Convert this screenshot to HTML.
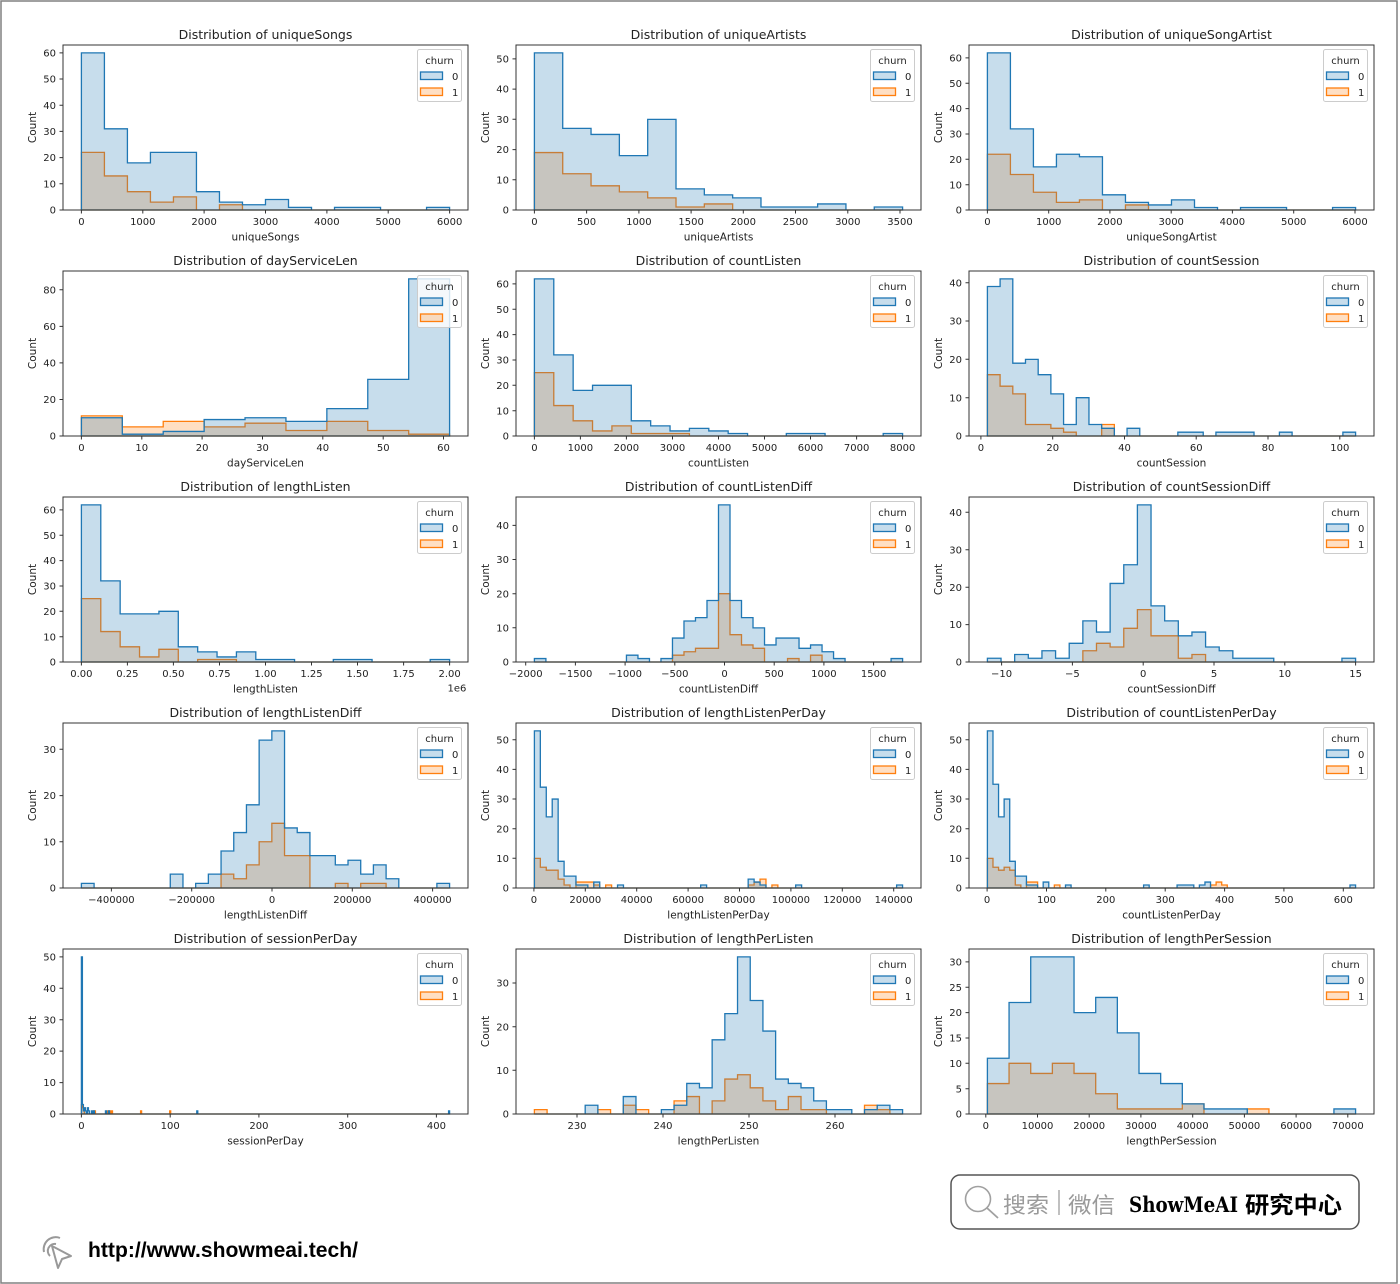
<!DOCTYPE html>
<html>
<head>
<meta charset="utf-8">
<style>
html,body{margin:0;padding:0;background:#fff;}
svg{display:block;}
text{font-family:"DejaVu Sans","Liberation Sans",sans-serif;fill:#222;}
.t{font-size:12.5px;text-anchor:middle;}
.xl{font-size:10.5px;text-anchor:middle;}
.xt{font-size:10px;text-anchor:middle;}
.yt{font-size:10px;text-anchor:end;}
.lg{font-size:10px;}
.b{fill:#1f77b4;fill-opacity:.25;stroke:#1f77b4;stroke-width:1.3;vector-effect:non-scaling-stroke;}
.o{fill:#ff7f0e;fill-opacity:.25;stroke:#ff7f0e;stroke-width:1.3;vector-effect:non-scaling-stroke;}
.sp{fill:none;stroke:#333;stroke-width:1;}
.tk{stroke:#333;stroke-width:1;fill:none;}
.lb{fill:#fff;fill-opacity:.8;stroke:#ccc;stroke-width:1;}
.pb{fill:#1f77b4;fill-opacity:.25;stroke:#1f77b4;stroke-width:1.3;}
.po{fill:#ff7f0e;fill-opacity:.25;stroke:#ff7f0e;stroke-width:1.3;}
</style>
</head>
<body>
<svg width="1400" height="1284" viewBox="0 0 1400 1284" xmlns="http://www.w3.org/2000/svg">
<rect x="0" y="0" width="1400" height="1284" fill="#fff"/>
<rect x="1" y="1" width="1396" height="1282" fill="none" stroke="#808080" stroke-width="1.5"/>

<!-- Chart 1 uniqueSongs -->
<g transform="translate(63,45)">
<g transform="translate(18.4,165) scale(23.011,-2.619)">
<path class="o" d="M0,0V22H1V13H2V7H3V3H4V5H5V0H6V2H7V0H16Z"/>
<path class="b" d="M0,0V60H1V31H2V18H3V22H5V7H6V3H7V2H8V4H9V1H10V0H11V1H13V0H15V1H16V0Z"/>
</g>
<rect class="sp" x="0" y="0" width="405" height="165"/>
<path class="tk" d="M18.4,165v3.5M79.8,165v3.5M141.1,165v3.5M202.5,165v3.5M263.9,165v3.5M325.2,165v3.5M386.6,165v3.5M0,165h-3.5M0,138.8h-3.5M0,112.6h-3.5M0,86.4h-3.5M0,60.2h-3.5M0,34h-3.5M0,7.9h-3.5"/>
<text class="xt" y="180"><tspan x="18.4">0</tspan><tspan x="79.8">1000</tspan><tspan x="141.1">2000</tspan><tspan x="202.5">3000</tspan><tspan x="263.9">4000</tspan><tspan x="325.2">5000</tspan><tspan x="386.6">6000</tspan></text>
<text class="yt"><tspan x="-7" y="168.6">0</tspan><tspan x="-7" y="142.4">10</tspan><tspan x="-7" y="116.2">20</tspan><tspan x="-7" y="90">30</tspan><tspan x="-7" y="63.8">40</tspan><tspan x="-7" y="37.6">50</tspan><tspan x="-7" y="11.5">60</tspan></text>
<text class="t" x="202.5" y="-6">Distribution of uniqueSongs</text>
<text class="xl" x="202.5" y="195.5">uniqueSongs</text>
<text class="xl" transform="translate(-27,82.5) rotate(-90)">Count</text>
<rect class="lb" x="354.5" y="4.5" width="44" height="52" rx="2"/>
<text class="lg" x="376.5" y="19" text-anchor="middle">churn</text>
<rect class="pb" x="357.5" y="27" width="22" height="7.5"/><text class="lg" x="389" y="35">0</text>
<rect class="po" x="357.5" y="43" width="22" height="7.5"/><text class="lg" x="389" y="51">1</text>
</g>

<!-- Chart 2 uniqueArtists -->
<g transform="translate(516,45)">
<g transform="translate(18.4,165) scale(28.322,-3.022)">
<path class="o" d="M0,0V19H1V12H2V8H3V6H4V4H5V1H6V2H7V0H13Z"/>
<path class="b" d="M0,0V52H1V27H2V25H3V18H4V30H5V7H6V5H7V4H8V1H10V2H11V0H12V1H13V0Z"/>
</g>
<rect class="sp" x="0" y="0" width="405" height="165"/>
<path class="tk" d="M18.4,165v3.5M70.6,165v3.5M122.9,165v3.5M175.1,165v3.5M227.3,165v3.5M279.5,165v3.5M331.8,165v3.5M384,165v3.5M0,165h-3.5M0,134.8h-3.5M0,104.6h-3.5M0,74.3h-3.5M0,44.1h-3.5M0,13.9h-3.5"/>
<text class="xt" y="180"><tspan x="18.4">0</tspan><tspan x="70.6">500</tspan><tspan x="122.9">1000</tspan><tspan x="175.1">1500</tspan><tspan x="227.3">2000</tspan><tspan x="279.5">2500</tspan><tspan x="331.8">3000</tspan><tspan x="384">3500</tspan></text>
<text class="yt"><tspan x="-7" y="168.6">0</tspan><tspan x="-7" y="138.4">10</tspan><tspan x="-7" y="108.2">20</tspan><tspan x="-7" y="77.9">30</tspan><tspan x="-7" y="47.7">40</tspan><tspan x="-7" y="17.5">50</tspan></text>
<text class="t" x="202.5" y="-6">Distribution of uniqueArtists</text>
<text class="xl" x="202.5" y="195.5">uniqueArtists</text>
<text class="xl" transform="translate(-27,82.5) rotate(-90)">Count</text>
<rect class="lb" x="354.5" y="4.5" width="44" height="52" rx="2"/>
<text class="lg" x="376.5" y="19" text-anchor="middle">churn</text>
<rect class="pb" x="357.5" y="27" width="22" height="7.5"/><text class="lg" x="389" y="35">0</text>
<rect class="po" x="357.5" y="43" width="22" height="7.5"/><text class="lg" x="389" y="51">1</text>
</g>

<!-- Chart 3 uniqueSongArtist -->
<g transform="translate(969,45)">
<g transform="translate(18.4,165) scale(23.011,-2.5346)">
<path class="o" d="M0,0V22H1V14H2V7H3V3H4V4H5V0H6V2H7V0H16Z"/>
<path class="b" d="M0,0V62H1V32H2V17H3V22H4V21H5V6H6V3H7V2H8V4H9V1H10V0H11V1H13V0H15V1H16V0Z"/>
</g>
<rect class="sp" x="0" y="0" width="405" height="165"/>
<path class="tk" d="M18.4,165v3.5M79.7,165v3.5M140.9,165v3.5M202.2,165v3.5M263.4,165v3.5M324.7,165v3.5M386,165v3.5M0,165h-3.5M0,139.7h-3.5M0,114.3h-3.5M0,89h-3.5M0,63.6h-3.5M0,38.3h-3.5M0,12.9h-3.5"/>
<text class="xt" y="180"><tspan x="18.4">0</tspan><tspan x="79.7">1000</tspan><tspan x="140.9">2000</tspan><tspan x="202.2">3000</tspan><tspan x="263.4">4000</tspan><tspan x="324.7">5000</tspan><tspan x="386">6000</tspan></text>
<text class="yt"><tspan x="-7" y="168.6">0</tspan><tspan x="-7" y="143.3">10</tspan><tspan x="-7" y="117.9">20</tspan><tspan x="-7" y="92.6">30</tspan><tspan x="-7" y="67.2">40</tspan><tspan x="-7" y="41.9">50</tspan><tspan x="-7" y="16.5">60</tspan></text>
<text class="t" x="202.5" y="-6">Distribution of uniqueSongArtist</text>
<text class="xl" x="202.5" y="195.5">uniqueSongArtist</text>
<text class="xl" transform="translate(-27,82.5) rotate(-90)">Count</text>
<rect class="lb" x="354.5" y="4.5" width="44" height="52" rx="2"/>
<text class="lg" x="376.5" y="19" text-anchor="middle">churn</text>
<rect class="pb" x="357.5" y="27" width="22" height="7.5"/><text class="lg" x="389" y="35">0</text>
<rect class="po" x="357.5" y="43" width="22" height="7.5"/><text class="lg" x="389" y="51">1</text>
</g>

<!-- Chart 4 dayServiceLen -->
<g transform="translate(63,271)">
<g transform="translate(18.4,165) scale(40.909,-1.8272)">
<path class="o" d="M0,0V11H1V5H2V8H3V5H4V7H5V3H6V8H7V3H8V1H9V0Z"/>
<path class="b" d="M0,0V10H1V1H2V2.5H3V9H4V10H5V8H6V15H7V31H8V86H9V0Z"/>
</g>
<rect class="sp" x="0" y="0" width="405" height="165"/>
<path class="tk" d="M18.4,165v3.5M78.8,165v3.5M139.1,165v3.5M199.5,165v3.5M259.8,165v3.5M320.2,165v3.5M380.5,165v3.5M0,165h-3.5M0,128.5h-3.5M0,91.9h-3.5M0,55.4h-3.5M0,18.8h-3.5"/>
<text class="xt" y="180"><tspan x="18.4">0</tspan><tspan x="78.8">10</tspan><tspan x="139.1">20</tspan><tspan x="199.5">30</tspan><tspan x="259.8">40</tspan><tspan x="320.2">50</tspan><tspan x="380.5">60</tspan></text>
<text class="yt"><tspan x="-7" y="168.6">0</tspan><tspan x="-7" y="132.1">20</tspan><tspan x="-7" y="95.5">40</tspan><tspan x="-7" y="59">60</tspan><tspan x="-7" y="22.4">80</tspan></text>
<text class="t" x="202.5" y="-6">Distribution of dayServiceLen</text>
<text class="xl" x="202.5" y="195.5">dayServiceLen</text>
<text class="xl" transform="translate(-27,82.5) rotate(-90)">Count</text>
<rect class="lb" x="354.5" y="4.5" width="44" height="52" rx="2"/>
<text class="lg" x="376.5" y="19" text-anchor="middle">churn</text>
<rect class="pb" x="357.5" y="27" width="22" height="7.5"/><text class="lg" x="389" y="35">0</text>
<rect class="po" x="357.5" y="43" width="22" height="7.5"/><text class="lg" x="389" y="51">1</text>
</g>

<!-- Chart 5 countListen -->
<g transform="translate(516,271)">
<g transform="translate(18.4,165) scale(19.378,-2.5346)">
<path class="o" d="M0,0V25H1V12H2V6H3V2H4V4H5V1H8V0H19Z"/>
<path class="b" d="M0,0V62H1V32H2V18H3V20H5V6H6V4H7V2H8V3H9V2H10V1H11V0H13V1H15V0H18V1H19V0Z"/>
</g>
<rect class="sp" x="0" y="0" width="405" height="165"/>
<path class="tk" d="M18.4,165v3.5M64.4,165v3.5M110.4,165v3.5M156.5,165v3.5M202.5,165v3.5M248.5,165v3.5M294.5,165v3.5M340.6,165v3.5M386.6,165v3.5M0,165h-3.5M0,139.7h-3.5M0,114.3h-3.5M0,89h-3.5M0,63.6h-3.5M0,38.3h-3.5M0,12.9h-3.5"/>
<text class="xt" y="180"><tspan x="18.4">0</tspan><tspan x="64.4">1000</tspan><tspan x="110.4">2000</tspan><tspan x="156.5">3000</tspan><tspan x="202.5">4000</tspan><tspan x="248.5">5000</tspan><tspan x="294.5">6000</tspan><tspan x="340.6">7000</tspan><tspan x="386.6">8000</tspan></text>
<text class="yt"><tspan x="-7" y="168.6">0</tspan><tspan x="-7" y="143.3">10</tspan><tspan x="-7" y="117.9">20</tspan><tspan x="-7" y="92.6">30</tspan><tspan x="-7" y="67.2">40</tspan><tspan x="-7" y="41.9">50</tspan><tspan x="-7" y="16.5">60</tspan></text>
<text class="t" x="202.5" y="-6">Distribution of countListen</text>
<text class="xl" x="202.5" y="195.5">countListen</text>
<text class="xl" transform="translate(-27,82.5) rotate(-90)">Count</text>
<rect class="lb" x="354.5" y="4.5" width="44" height="52" rx="2"/>
<text class="lg" x="376.5" y="19" text-anchor="middle">churn</text>
<rect class="pb" x="357.5" y="27" width="22" height="7.5"/><text class="lg" x="389" y="35">0</text>
<rect class="po" x="357.5" y="43" width="22" height="7.5"/><text class="lg" x="389" y="51">1</text>
</g>

<!-- Chart 6 countSession -->
<g transform="translate(969,271)">
<g transform="translate(18.4,165) scale(12.696,-3.8328)">
<path class="o" d="M0,0V16H1V13H2V11H3V3H5V2H6V1H7V0H9V3H10V0H29Z"/>
<path class="b" d="M0,0V39H1V41H2V19H3V20H4V16H5V11H6V3H7V10H8V3H9V2H10V0H11V2H12V0H15V1H17V0H18V1H21V0H23V1H24V0H28V1H29V0Z"/>
</g>
<rect class="sp" x="0" y="0" width="405" height="165"/>
<path class="tk" d="M11.9,165v3.5M83.7,165v3.5M155.5,165v3.5M227.2,165v3.5M299,165v3.5M370.8,165v3.5M0,165h-3.5M0,126.7h-3.5M0,88.3h-3.5M0,50h-3.5M0,11.7h-3.5"/>
<text class="xt" y="180"><tspan x="11.9">0</tspan><tspan x="83.7">20</tspan><tspan x="155.5">40</tspan><tspan x="227.2">60</tspan><tspan x="299">80</tspan><tspan x="370.8">100</tspan></text>
<text class="yt"><tspan x="-7" y="168.6">0</tspan><tspan x="-7" y="130.3">10</tspan><tspan x="-7" y="91.9">20</tspan><tspan x="-7" y="53.6">30</tspan><tspan x="-7" y="15.3">40</tspan></text>
<text class="t" x="202.5" y="-6">Distribution of countSession</text>
<text class="xl" x="202.5" y="195.5">countSession</text>
<text class="xl" transform="translate(-27,82.5) rotate(-90)">Count</text>
<rect class="lb" x="354.5" y="4.5" width="44" height="52" rx="2"/>
<text class="lg" x="376.5" y="19" text-anchor="middle">churn</text>
<rect class="pb" x="357.5" y="27" width="22" height="7.5"/><text class="lg" x="389" y="35">0</text>
<rect class="po" x="357.5" y="43" width="22" height="7.5"/><text class="lg" x="389" y="51">1</text>
</g>

<!-- Chart 7 lengthListen -->
<g transform="translate(63,497)">
<g transform="translate(18.4,165) scale(19.378,-2.5346)">
<path class="o" d="M0,0V25H1V12H2V6H3V2H4V5H5V0H6V1H8V0H19Z"/>
<path class="b" d="M0,0V62H1V32H2V19H4V20H5V6H6V4H7V2H8V4H9V1H11V0H13V1H15V0H18V1H19V0Z"/>
</g>
<rect class="sp" x="0" y="0" width="405" height="165"/>
<path class="tk" d="M18.4,165v3.5M64.4,165v3.5M110.4,165v3.5M156.5,165v3.5M202.5,165v3.5M248.5,165v3.5M294.5,165v3.5M340.6,165v3.5M386.6,165v3.5M0,165h-3.5M0,139.7h-3.5M0,114.3h-3.5M0,89h-3.5M0,63.6h-3.5M0,38.3h-3.5M0,12.9h-3.5"/>
<text class="xt" y="180"><tspan x="18.4">0.00</tspan><tspan x="64.4">0.25</tspan><tspan x="110.4">0.50</tspan><tspan x="156.5">0.75</tspan><tspan x="202.5">1.00</tspan><tspan x="248.5">1.25</tspan><tspan x="294.5">1.50</tspan><tspan x="340.6">1.75</tspan><tspan x="386.6">2.00</tspan></text>
<text class="xt" x="394" y="194.5">1e6</text>
<text class="yt"><tspan x="-7" y="168.6">0</tspan><tspan x="-7" y="143.3">10</tspan><tspan x="-7" y="117.9">20</tspan><tspan x="-7" y="92.6">30</tspan><tspan x="-7" y="67.2">40</tspan><tspan x="-7" y="41.9">50</tspan><tspan x="-7" y="16.5">60</tspan></text>
<text class="t" x="202.5" y="-6">Distribution of lengthListen</text>
<text class="xl" x="202.5" y="195.5">lengthListen</text>
<text class="xl" transform="translate(-27,82.5) rotate(-90)">Count</text>
<rect class="lb" x="354.5" y="4.5" width="44" height="52" rx="2"/>
<text class="lg" x="376.5" y="19" text-anchor="middle">churn</text>
<rect class="pb" x="357.5" y="27" width="22" height="7.5"/><text class="lg" x="389" y="35">0</text>
<rect class="po" x="357.5" y="43" width="22" height="7.5"/><text class="lg" x="389" y="51">1</text>
</g>

<!-- Chart 8 countListenDiff -->
<g transform="translate(516,497)">
<g transform="translate(18.4,165) scale(11.506,-3.4161)">
<path class="o" d="M0,0H12V2H13V3H14V4H16V20H17V8H18V5H19V4H20V0H22V1H23V0H24V2H25V0H32Z"/>
<path class="b" d="M0,0V1H1V0H8V2H9V1H10V0H11V1H12V7H13V12H14V13H15V18H16V46H17V18H18V13H19V10H20V5H21V7H23V4H24V5H25V3H26V1H27V0H31V1H32V0Z"/>
</g>
<rect class="sp" x="0" y="0" width="405" height="165"/>
<path class="tk" d="M9.7,165v3.5M59.4,165v3.5M109.1,165v3.5M158.8,165v3.5M208.5,165v3.5M258.2,165v3.5M307.9,165v3.5M357.6,165v3.5M0,165h-3.5M0,130.8h-3.5M0,96.7h-3.5M0,62.5h-3.5M0,28.4h-3.5"/>
<text class="xt" y="180"><tspan x="9.7">−2000</tspan><tspan x="59.4">−1500</tspan><tspan x="109.1">−1000</tspan><tspan x="158.8">−500</tspan><tspan x="208.5">0</tspan><tspan x="258.2">500</tspan><tspan x="307.9">1000</tspan><tspan x="357.6">1500</tspan></text>
<text class="yt"><tspan x="-7" y="168.6">0</tspan><tspan x="-7" y="134.4">10</tspan><tspan x="-7" y="100.3">20</tspan><tspan x="-7" y="66.1">30</tspan><tspan x="-7" y="32">40</tspan></text>
<text class="t" x="202.5" y="-6">Distribution of countListenDiff</text>
<text class="xl" x="202.5" y="195.5">countListenDiff</text>
<text class="xl" transform="translate(-27,82.5) rotate(-90)">Count</text>
<rect class="lb" x="354.5" y="4.5" width="44" height="52" rx="2"/>
<text class="lg" x="376.5" y="19" text-anchor="middle">churn</text>
<rect class="pb" x="357.5" y="27" width="22" height="7.5"/><text class="lg" x="389" y="35">0</text>
<rect class="po" x="357.5" y="43" width="22" height="7.5"/><text class="lg" x="389" y="51">1</text>
</g>

<!-- Chart 9 countSessionDiff -->
<g transform="translate(969,497)">
<g transform="translate(18.4,165) scale(13.636,-3.7415)">
<path class="o" d="M0,0H7V3H8V5H9V4H10V9H11V14H12V7H14V1H15V2H16V0H27Z"/>
<path class="b" d="M0,0V1H1V0H2V2H3V1H4V3H5V1H6V5H7V11H8V8H9V21H10V26H11V42H12V15H13V11H14V7H15V8H16V4H17V3H18V1H21V0H26V1H27V0Z"/>
</g>
<rect class="sp" x="0" y="0" width="405" height="165"/>
<path class="tk" d="M32.6,165v3.5M103.4,165v3.5M174.2,165v3.5M245,165v3.5M315.8,165v3.5M386.6,165v3.5M0,165h-3.5M0,127.6h-3.5M0,90.2h-3.5M0,52.8h-3.5M0,15.3h-3.5"/>
<text class="xt" y="180"><tspan x="32.6">−10</tspan><tspan x="103.4">−5</tspan><tspan x="174.2">0</tspan><tspan x="245">5</tspan><tspan x="315.8">10</tspan><tspan x="386.6">15</tspan></text>
<text class="yt"><tspan x="-7" y="168.6">0</tspan><tspan x="-7" y="131.2">10</tspan><tspan x="-7" y="93.8">20</tspan><tspan x="-7" y="56.4">30</tspan><tspan x="-7" y="18.9">40</tspan></text>
<text class="t" x="202.5" y="-6">Distribution of countSessionDiff</text>
<text class="xl" x="202.5" y="195.5">countSessionDiff</text>
<text class="xl" transform="translate(-27,82.5) rotate(-90)">Count</text>
<rect class="lb" x="354.5" y="4.5" width="44" height="52" rx="2"/>
<text class="lg" x="376.5" y="19" text-anchor="middle">churn</text>
<rect class="pb" x="357.5" y="27" width="22" height="7.5"/><text class="lg" x="389" y="35">0</text>
<rect class="po" x="357.5" y="43" width="22" height="7.5"/><text class="lg" x="389" y="51">1</text>
</g>

<!-- Chart 10 lengthListenDiff -->
<g transform="translate(63,723)">
<g transform="translate(18.4,165) scale(12.696,-4.6218)">
<path class="o" d="M0,0H11V3H12V2H13V5H14V10H15V14H16V7H18V0H20V1H21V0H22V1H24V0H29Z"/>
<path class="b" d="M0,0V1H1V0H7V3H8V0H9V1H10V3H11V8H12V12H13V18H14V32H15V34H16V13H17V12H18V7H20V5H21V6H22V3H23V5H24V2H25V0H28V1H29V0Z"/>
</g>
<rect class="sp" x="0" y="0" width="405" height="165"/>
<path class="tk" d="M48.4,165v3.5M128.7,165v3.5M209,165v3.5M289.3,165v3.5M369.6,165v3.5M0,165h-3.5M0,118.8h-3.5M0,72.6h-3.5M0,26.3h-3.5"/>
<text class="xt" y="180"><tspan x="48.4">−400000</tspan><tspan x="128.7">−200000</tspan><tspan x="209">0</tspan><tspan x="289.3">200000</tspan><tspan x="369.6">400000</tspan></text>
<text class="yt"><tspan x="-7" y="168.6">0</tspan><tspan x="-7" y="122.4">10</tspan><tspan x="-7" y="76.2">20</tspan><tspan x="-7" y="29.9">30</tspan></text>
<text class="t" x="202.5" y="-6">Distribution of lengthListenDiff</text>
<text class="xl" x="202.5" y="195.5">lengthListenDiff</text>
<text class="xl" transform="translate(-27,82.5) rotate(-90)">Count</text>
<rect class="lb" x="354.5" y="4.5" width="44" height="52" rx="2"/>
<text class="lg" x="376.5" y="19" text-anchor="middle">churn</text>
<rect class="pb" x="357.5" y="27" width="22" height="7.5"/><text class="lg" x="389" y="35">0</text>
<rect class="po" x="357.5" y="43" width="22" height="7.5"/><text class="lg" x="389" y="51">1</text>
</g>

<!-- Chart 11 lengthListenPerDay -->
<g transform="translate(516,723)">
<g transform="translate(18.4,165) scale(5.938,-2.965)">
<path class="o" d="M0,0V10H1V7H2V6H4V3H5V1H6V0H7V2H10V1H11V0H12V1H13V0H36V1H37V2H38V3H39V0H40V1H41V0H62Z"/>
<path class="b" d="M0,0V53H1V34H2V24H3V30H4V9H5V4H7V1H9V0H10V2H11V0H14V1H15V0H28V1H29V0H36V3H37V2H38V1H39V0H44V1H45V0H61V1H62V0Z"/>
</g>
<rect class="sp" x="0" y="0" width="405" height="165"/>
<path class="tk" d="M17.9,165v3.5M69.3,165v3.5M120.7,165v3.5M172.1,165v3.5M223.5,165v3.5M274.9,165v3.5M326.3,165v3.5M377.7,165v3.5M0,165h-3.5M0,135.3h-3.5M0,105.7h-3.5M0,76h-3.5M0,46.4h-3.5M0,16.7h-3.5"/>
<text class="xt" y="180"><tspan x="17.9">0</tspan><tspan x="69.3">20000</tspan><tspan x="120.7">40000</tspan><tspan x="172.1">60000</tspan><tspan x="223.5">80000</tspan><tspan x="274.9">100000</tspan><tspan x="326.3">120000</tspan><tspan x="377.7">140000</tspan></text>
<text class="yt"><tspan x="-7" y="168.6">0</tspan><tspan x="-7" y="138.9">10</tspan><tspan x="-7" y="109.3">20</tspan><tspan x="-7" y="79.6">30</tspan><tspan x="-7" y="50">40</tspan><tspan x="-7" y="20.3">50</tspan></text>
<text class="t" x="202.5" y="-6">Distribution of lengthListenPerDay</text>
<text class="xl" x="202.5" y="195.5">lengthListenPerDay</text>
<text class="xl" transform="translate(-27,82.5) rotate(-90)">Count</text>
<rect class="lb" x="354.5" y="4.5" width="44" height="52" rx="2"/>
<text class="lg" x="376.5" y="19" text-anchor="middle">churn</text>
<rect class="pb" x="357.5" y="27" width="22" height="7.5"/><text class="lg" x="389" y="35">0</text>
<rect class="po" x="357.5" y="43" width="22" height="7.5"/><text class="lg" x="389" y="51">1</text>
</g>

<!-- Chart 12 countListenPerDay -->
<g transform="translate(969,723)">
<g transform="translate(18.4,165) scale(5.5785,-2.965)">
<path class="o" d="M0,0V10H1V7H2V6H3V7H4V6H5V1H6V0H7V2H9V0H12V1H13V0H40V1H41V2H42V1H43V0H66Z"/>
<path class="b" d="M0,0V53H1V35H2V24H3V30H4V9H5V4H7V1H9V0H10V2H11V0H14V1H15V0H28V1H29V0H34V1H37V0H38V1H39V2H40V0H65V1H66V0Z"/>
</g>
<rect class="sp" x="0" y="0" width="405" height="165"/>
<path class="tk" d="M18.1,165v3.5M77.5,165v3.5M136.8,165v3.5M196.2,165v3.5M255.6,165v3.5M314.9,165v3.5M374.3,165v3.5M0,165h-3.5M0,135.3h-3.5M0,105.7h-3.5M0,76h-3.5M0,46.4h-3.5M0,16.7h-3.5"/>
<text class="xt" y="180"><tspan x="18.1">0</tspan><tspan x="77.5">100</tspan><tspan x="136.8">200</tspan><tspan x="196.2">300</tspan><tspan x="255.6">400</tspan><tspan x="314.9">500</tspan><tspan x="374.3">600</tspan></text>
<text class="yt"><tspan x="-7" y="168.6">0</tspan><tspan x="-7" y="138.9">10</tspan><tspan x="-7" y="109.3">20</tspan><tspan x="-7" y="79.6">30</tspan><tspan x="-7" y="50">40</tspan><tspan x="-7" y="20.3">50</tspan></text>
<text class="t" x="202.5" y="-6">Distribution of countListenPerDay</text>
<text class="xl" x="202.5" y="195.5">countListenPerDay</text>
<text class="xl" transform="translate(-27,82.5) rotate(-90)">Count</text>
<rect class="lb" x="354.5" y="4.5" width="44" height="52" rx="2"/>
<text class="lg" x="376.5" y="19" text-anchor="middle">churn</text>
<rect class="pb" x="357.5" y="27" width="22" height="7.5"/><text class="lg" x="389" y="35">0</text>
<rect class="po" x="357.5" y="43" width="22" height="7.5"/><text class="lg" x="389" y="51">1</text>
</g>

<!-- Chart 13 sessionPerDay -->
<g transform="translate(63,949)">
<g transform="translate(18.4,165) scale(1.00322,-3.1429)">
<path class="o" d="M0,0V3H1V2H2V1H3V0H12V1H14V0H26V1H27V0H28V1H29V0H30V1H31V0H59V1H60V0H88V1H89V0H367Z"/>
<path class="b" d="M0,0V50H1V3H2V1H3V2H4V1H5V0H6V2H7V1H8V0H10V1H11V0H12V1H13V0H24V1H25V0H27V1H28V0H115V1H116V0H366V1H367V0Z"/>
</g>
<rect class="sp" x="0" y="0" width="405" height="165"/>
<path class="tk" d="M18.4,165v3.5M107.2,165v3.5M195.9,165v3.5M284.7,165v3.5M373.4,165v3.5M0,165h-3.5M0,133.6h-3.5M0,102.1h-3.5M0,70.7h-3.5M0,39.3h-3.5M0,7.9h-3.5"/>
<text class="xt" y="180"><tspan x="18.4">0</tspan><tspan x="107.2">100</tspan><tspan x="195.9">200</tspan><tspan x="284.7">300</tspan><tspan x="373.4">400</tspan></text>
<text class="yt"><tspan x="-7" y="168.6">0</tspan><tspan x="-7" y="137.2">10</tspan><tspan x="-7" y="105.7">20</tspan><tspan x="-7" y="74.3">30</tspan><tspan x="-7" y="42.9">40</tspan><tspan x="-7" y="11.5">50</tspan></text>
<text class="t" x="202.5" y="-6">Distribution of sessionPerDay</text>
<text class="xl" x="202.5" y="195.5">sessionPerDay</text>
<text class="xl" transform="translate(-27,82.5) rotate(-90)">Count</text>
<rect class="lb" x="354.5" y="4.5" width="44" height="52" rx="2"/>
<text class="lg" x="376.5" y="19" text-anchor="middle">churn</text>
<rect class="pb" x="357.5" y="27" width="22" height="7.5"/><text class="lg" x="389" y="35">0</text>
<rect class="po" x="357.5" y="43" width="22" height="7.5"/><text class="lg" x="389" y="51">1</text>
</g>

<!-- Chart 14 lengthPerListen -->
<g transform="translate(516,949)">
<g transform="translate(18.4,165) scale(12.696,-4.365)">
<path class="o" d="M0,0V1H1V0H5V1H6V0H7V2H8V1H9V0H11V3H12V4H13V0H14V3H15V8H16V9H17V6H18V3H19V1H20V4H21V1H23V0H26V2H27V1H28V0H29Z"/>
<path class="b" d="M0,0H4V2H5V0H7V4H8V0H10V1H11V2H12V7H13V6H14V17H15V23H16V36H17V26H18V19H19V8H20V7H21V6H22V3H23V1H25V0H26V1H27V2H28V1H29V0Z"/>
</g>
<rect class="sp" x="0" y="0" width="405" height="165"/>
<path class="tk" d="M61,165v3.5M147,165v3.5M233,165v3.5M319,165v3.5M0,165h-3.5M0,121.3h-3.5M0,77.7h-3.5M0,34h-3.5"/>
<text class="xt" y="180"><tspan x="61">230</tspan><tspan x="147">240</tspan><tspan x="233">250</tspan><tspan x="319">260</tspan></text>
<text class="yt"><tspan x="-7" y="168.6">0</tspan><tspan x="-7" y="124.9">10</tspan><tspan x="-7" y="81.3">20</tspan><tspan x="-7" y="37.6">30</tspan></text>
<text class="t" x="202.5" y="-6">Distribution of lengthPerListen</text>
<text class="xl" x="202.5" y="195.5">lengthPerListen</text>
<text class="xl" transform="translate(-27,82.5) rotate(-90)">Count</text>
<rect class="lb" x="354.5" y="4.5" width="44" height="52" rx="2"/>
<text class="lg" x="376.5" y="19" text-anchor="middle">churn</text>
<rect class="pb" x="357.5" y="27" width="22" height="7.5"/><text class="lg" x="389" y="35">0</text>
<rect class="po" x="357.5" y="43" width="22" height="7.5"/><text class="lg" x="389" y="51">1</text>
</g>

<!-- Chart 15 lengthPerSession -->
<g transform="translate(969,949)">
<g transform="translate(18.4,165) scale(21.658,-5.069)">
<path class="o" d="M0,0V6H1V10H2V8H3V10H4V8H5V4H6V1H9V2H10V0H12V1H13V0H17Z"/>
<path class="b" d="M0,0V11H1V22H2V31H4V20H5V23H6V16H7V8H8V6H9V2H10V1H12V0H16V1H17V0Z"/>
</g>
<rect class="sp" x="0" y="0" width="405" height="165"/>
<path class="tk" d="M16.8,165v3.5M68.5,165v3.5M120.2,165v3.5M171.9,165v3.5M223.7,165v3.5M275.4,165v3.5M327.1,165v3.5M378.8,165v3.5M0,165h-3.5M0,139.7h-3.5M0,114.3h-3.5M0,89h-3.5M0,63.6h-3.5M0,38.3h-3.5M0,12.9h-3.5"/>
<text class="xt" y="180"><tspan x="16.8">0</tspan><tspan x="68.5">10000</tspan><tspan x="120.2">20000</tspan><tspan x="171.9">30000</tspan><tspan x="223.7">40000</tspan><tspan x="275.4">50000</tspan><tspan x="327.1">60000</tspan><tspan x="378.8">70000</tspan></text>
<text class="yt"><tspan x="-7" y="168.6">0</tspan><tspan x="-7" y="143.3">5</tspan><tspan x="-7" y="117.9">10</tspan><tspan x="-7" y="92.6">15</tspan><tspan x="-7" y="67.2">20</tspan><tspan x="-7" y="41.9">25</tspan><tspan x="-7" y="16.5">30</tspan></text>
<text class="t" x="202.5" y="-6">Distribution of lengthPerSession</text>
<text class="xl" x="202.5" y="195.5">lengthPerSession</text>
<text class="xl" transform="translate(-27,82.5) rotate(-90)">Count</text>
<rect class="lb" x="354.5" y="4.5" width="44" height="52" rx="2"/>
<text class="lg" x="376.5" y="19" text-anchor="middle">churn</text>
<rect class="pb" x="357.5" y="27" width="22" height="7.5"/><text class="lg" x="389" y="35">0</text>
<rect class="po" x="357.5" y="43" width="22" height="7.5"/><text class="lg" x="389" y="51">1</text>
</g>

<!-- Watermark box -->
<rect x="951" y="1175" width="408" height="54" rx="9" fill="#fff" stroke="#555" stroke-width="1.5"/>
<circle cx="978" cy="1199" r="12.5" fill="none" stroke="#a0a0a0" stroke-width="1.6"/>
<line x1="987" y1="1208" x2="998" y2="1218" stroke="#a0a0a0" stroke-width="1.8"/>
<text x="1003" y="1213" font-size="22" textLength="46" lengthAdjust="spacingAndGlyphs" style="font-family:'Noto Sans CJK SC','WenQuanYi Zen Hei',sans-serif;fill:#9a9a9a">搜索</text>
<line x1="1059" y1="1190" x2="1059" y2="1215" stroke="#aaa" stroke-width="1.5"/>
<text x="1068" y="1213" font-size="22" textLength="47" lengthAdjust="spacingAndGlyphs" style="font-family:'Noto Sans CJK SC','WenQuanYi Zen Hei',sans-serif;fill:#9a9a9a">微信</text>
<text x="1129" y="1212" font-size="21" font-weight="bold" textLength="109" lengthAdjust="spacingAndGlyphs" style="font-family:'DejaVu Serif','Liberation Serif',serif;fill:#000">ShowMeAI</text>
<text x="1245" y="1213" font-size="23" font-weight="bold" textLength="97" lengthAdjust="spacingAndGlyphs" style="font-family:'Noto Sans CJK SC','WenQuanYi Zen Hei',sans-serif;fill:#000">研究中心</text>

<!-- URL + cursor icon -->
<path d="M44,1252 A12,12 0 0 1 60,1238" fill="none" stroke="#999" stroke-width="2"/>
<path d="M50,1256 A7,7 0 0 1 56,1244" fill="none" stroke="#999" stroke-width="2"/>
<path d="M52,1246 L71,1256 L62,1259 L58,1268 Z" fill="none" stroke="#999" stroke-width="2" stroke-linejoin="round"/>
<text x="88" y="1257" font-size="21" font-weight="bold" textLength="270" lengthAdjust="spacingAndGlyphs" style="font-family:'Liberation Sans',sans-serif;fill:#000">http://www.showmeai.tech/</text>
</svg>
</body>
</html>
